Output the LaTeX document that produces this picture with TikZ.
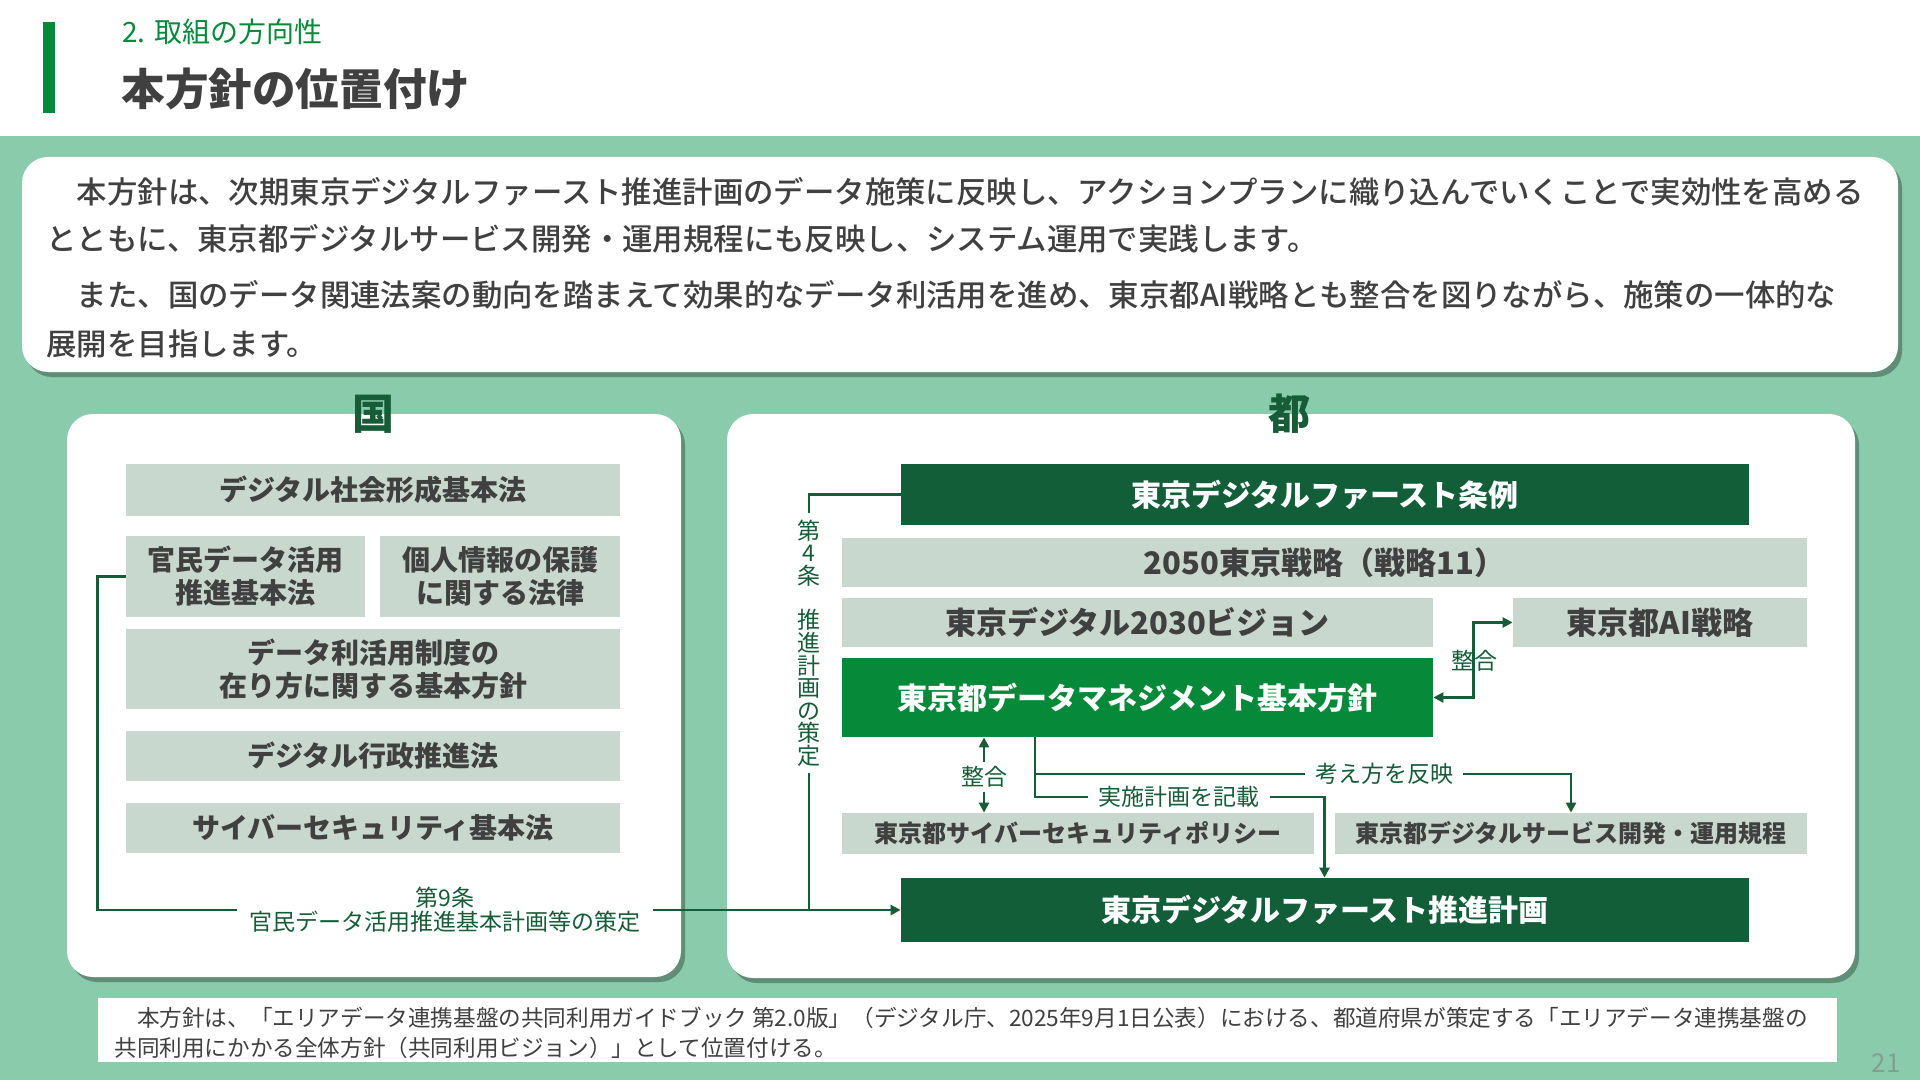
\documentclass[tikz,border=0pt]{standalone}
\usepackage{fontspec}
\setmainfont{Noto Sans CJK JP}
\newfontfamily\medium{Noto Sans CJK JP Medium}
\usetikzlibrary{arrows.meta,calc,shadows}
\definecolor{bgmint}{RGB}{137,203,170}
\definecolor{darkG}{RGB}{17,94,56}
\definecolor{brightG}{RGB}{6,138,58}
\definecolor{grayG}{RGB}{200,216,207}
\definecolor{txtgray}{RGB}{64,64,64}
\definecolor{lineG}{RGB}{22,92,55}
\definecolor{pgG}{RGB}{130,160,145}

\begin{document}
\begin{tikzpicture}[x=0.5pt,y=-0.5pt,>={Triangle[length=5pt,width=5pt]}]
\tikzstyle{pnl}=[fill=white,rounded corners=13pt,drop shadow={shadow xshift=2pt,shadow yshift=-2.5pt,opacity=.3,fill=black}]
\tikzstyle{gb}=[fill=grayG,text=txtgray,inner sep=0pt,align=center,font=\fontsize{14}{16.5}\selectfont\bfseries]
\tikzstyle{rg}=[gb,font=\fontsize{15.5}{18}\selectfont\bfseries]
\tikzstyle{sg}=[gb,font=\fontsize{12}{14}\selectfont\bfseries]
\tikzstyle{db}=[fill=darkG,text=white,inner sep=0pt,align=center,font=\fontsize{15}{18}\selectfont\bfseries]
\tikzstyle{lab}=[text=lineG,inner sep=5pt,font=\fontsize{11.5}{12}\selectfont]
\tikzstyle{ln}=[draw=lineG,line width=1.4pt]
\useasboundingbox (0,0) rectangle (1920,1080);
\fill[white] (0,0) rectangle (1920,136); \fill[bgmint] (0,136) rectangle (1920,1080);
\fill[brightG] (43,22) rectangle (55,113);
\node[anchor=west,inner sep=0,text=brightG,font=\fontsize{14}{16}\selectfont] (sub) at (122,32) {2. 取組の方向性};
\node[anchor=west,inner sep=0,text=txtgray,font=\fontsize{21.8}{24}\selectfont\bfseries] (ttl) at (121,89) {本方針の位置付け};

\fill[pnl] (22,157) rectangle (1898,372);
\node[anchor=west,align=left,inner sep=0,text=txtgray,font=\fontsize{15.2}{23.5}\medium] (p1) at (46,215.5) {　本方針は、次期東京デジタルファースト推進計画のデータ施策に反映し、アクションプランに織り込んでいくことで実効性を高める\\とともに、東京都デジタルサービス開発・運用規程にも反映し、システム運用で実践します。};
\node[anchor=west,align=left,inner sep=0,text=txtgray,font=\fontsize{15.2}{24.5}\medium] (p2) at (46,319.5) {　また、国のデータ関連法案の動向を踏まえて効果的なデータ利活用を進め、東京都AI戦略とも整合を図りながら、施策の一体的な\\展開を目指します。};

\fill[pnl] (67,414) rectangle (681,977); \fill[pnl] (727,414) rectangle (1855,978);
\node[text=lineG,font=\fontsize{21}{24}\selectfont\bfseries] (kuni) at (373,414) {国};
\node[text=lineG,font=\fontsize{21}{24}\selectfont\bfseries] (tomin) at (1289,414) {都};

\node[gb,minimum width=247pt,minimum height=26pt] (l1) at (373,490) {デジタル社会形成基本法};
\node[gb,minimum width=119.5pt,minimum height=40.5pt] (l2) at (245.5,576.5) {官民データ活用\\推進基本法};
\node[gb,minimum width=120pt,minimum height=40.5pt] (l3) at (500,576.5) {個人情報の保護\\に関する法律};
\node[gb,minimum width=247pt,minimum height=40pt] (l4) at (373,669) {データ利活用制度の\\在り方に関する基本方針};
\node[gb,minimum width=247pt,minimum height=25pt] (l5) at (373,756) {デジタル行政推進法};
\node[gb,minimum width=247pt,minimum height=25pt] (l6) at (373,828) {サイバーセキュリティ基本法};

\node[db,minimum width=424pt,minimum height=30.5pt] (r1) at (1325,494.5) {東京デジタルファースト条例};
\node[rg,minimum width=482.5pt,minimum height=24.5pt] (r2) at (1324.5,562.5) {2050東京戦略（戦略11）};
\node[rg,minimum width=295.5pt,minimum height=24.5pt] (r3) at (1137.5,622.5) {東京デジタル2030ビジョン};
\node[rg,minimum width=147pt,minimum height=24.5pt] (r4) at (1660,622.5) {東京都AI戦略};
\node[db,fill=brightG,minimum width=295.5pt,minimum height=39.5pt] (r5) at (1137.5,697.5) {東京都データマネジメント基本方針};
\node[sg,minimum width=236pt,minimum height=20.5pt] (r6) at (1078,833.5) {東京都サイバーセキュリティポリシー};
\node[sg,minimum width=236pt,minimum height=20.5pt] (r7) at (1571,833.5) {東京都デジタルサービス開発・運用規程};
\node[db,minimum width=424pt,minimum height=32pt] (r8) at (1325,910) {東京デジタルファースト推進計画};

\node[lab,align=center,inner xsep=6pt] (lab9) at (445,910) {第9条\\官民データ活用推進基本計画等の策定};
\draw[ln] (l2.west) -- ++(-28,0) |- (lab9.west);
\draw[ln,->] (lab9.east) -- (r8.west);

\node[lab,align=center,inner sep=3pt,font=\fontsize{11.5}{11.3}\selectfont] (v4) at (809,643) {第\\4\\条\\[11pt]推\\進\\計\\画\\の\\策\\定};
\draw[ln] (r1.west) -| (v4.north);
\draw[ln] (v4.south) -- (v4.south |- lab9.east);

\node[lab,inner sep=0pt] (s1) at (1474,661) {整合};
\draw[ln,<->] (r5.east) -- ++(40,0) |- (r4.west);

\node[lab,inner sep=2pt] (s2) at (984,777) {整合};
\draw[ln,->] (s2.north) -- (s2.north |- r5.south);
\draw[ln,->] (s2.south) -- (s2.south |- r6.north);

\coordinate (br) at (1035,774);
\node[lab] (kh) at (1384,774) {考え方を反映};
\node[lab] (jk) at (1179,797) {実施計画を記載};
\coordinate (gap) at ($(r6.east)!.5!(r7.west)$);
\draw[ln] (r5.south -| br) -- (br) -- (kh.west);
\draw[ln,->] (kh.east) -| (r7.north);
\draw[ln] (br) |- (jk.west);
\draw[ln,->] (jk.east) -| (gap |- r8.north);

\fill[white] (98,998) rectangle (1837,1062);
\node[anchor=west,align=left,inner sep=0,text=txtgray,font=\fontsize{11.3}{15}\selectfont] (ft) at (114,1033) {　本方針は、「エリアデータ連携基盤の共同利用ガイドブック 第2.0版」（デジタル庁、2025年9月1日公表）における、都道府県が策定する「エリアデータ連携基盤の\\共同利用にかかる全体方針（共同利用ビジョン）」として位置付ける。};
\node[text=pgG,font=\fontsize{13}{14}\selectfont] (pg) at (1886,1063) {21};
\end{tikzpicture}
\end{document}
